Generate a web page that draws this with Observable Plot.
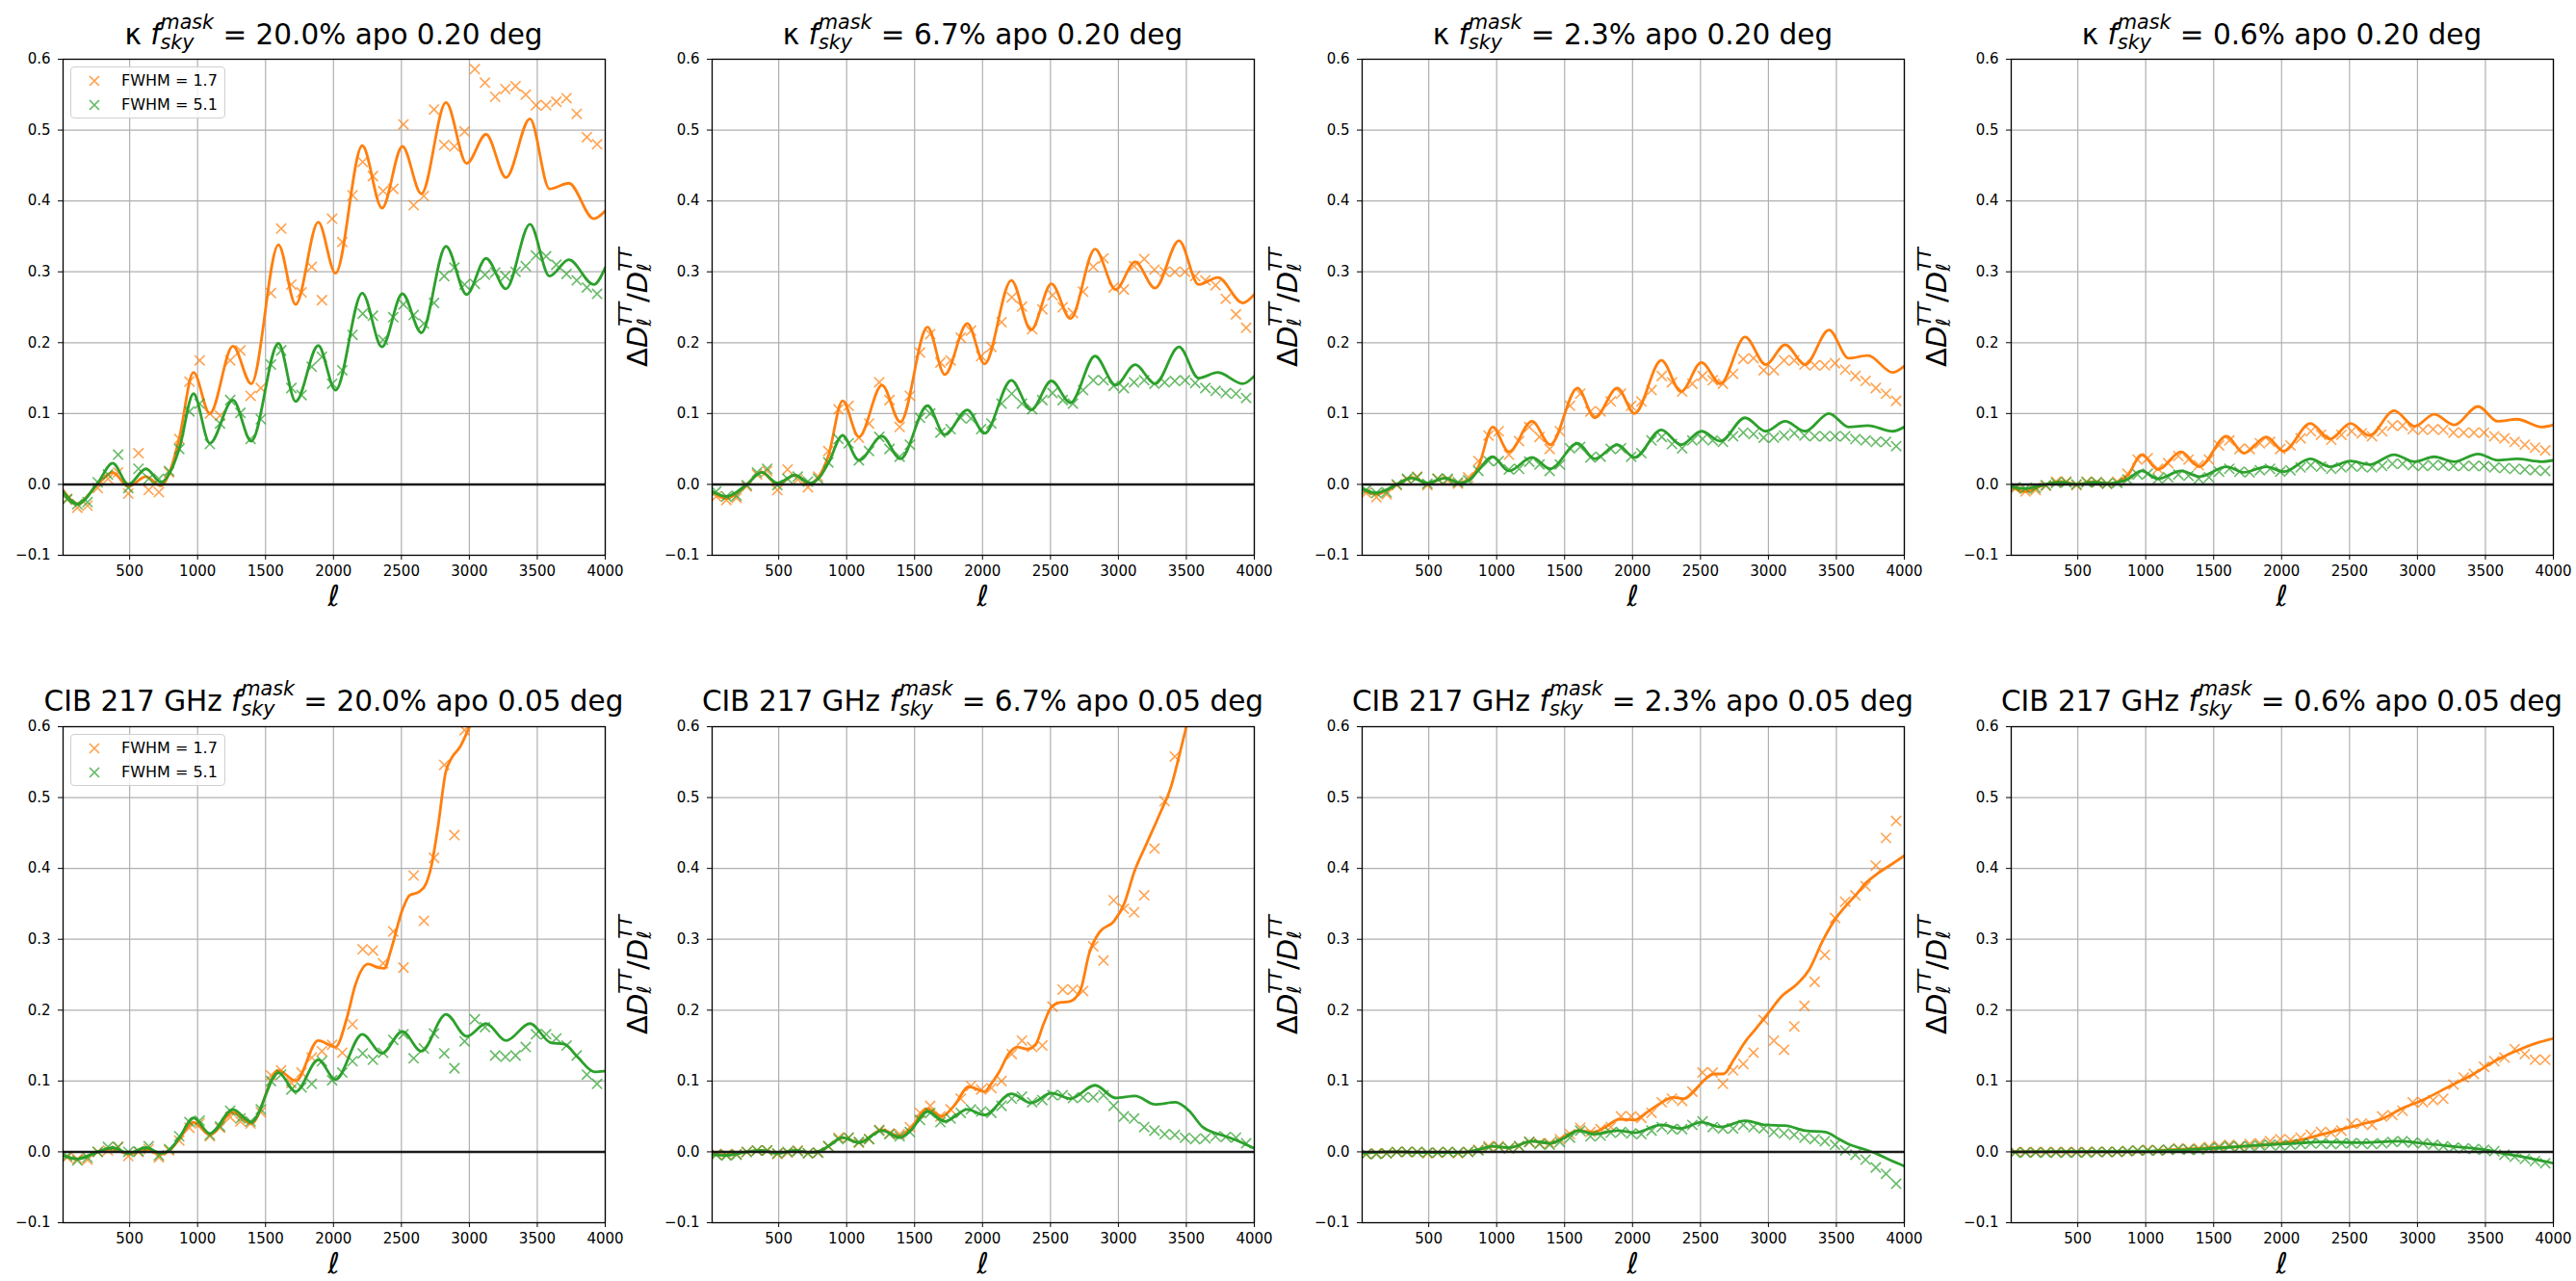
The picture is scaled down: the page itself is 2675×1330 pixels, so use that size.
<!DOCTYPE html>
<html><head><meta charset="utf-8">
<script src="https://cdn.jsdelivr.net/npm/d3@7"></script>
<script src="https://cdn.jsdelivr.net/npm/@observablehq/plot@0.6"></script>
<style>
body{margin:0;background:#fff;}
#fig{position:relative;width:2675px;height:1330px;overflow:hidden;background:#fff;font-family:"DejaVu Sans",sans-serif;color:#000;}
.panel{position:absolute;}
.title{position:absolute;font-size:29.5px;white-space:nowrap;transform:translate(-50%,-50%);line-height:1;}
.ss{display:inline-block;vertical-align:-0.22em;font-size:0.7em;line-height:1;font-style:italic;text-align:left;}
.ss span{display:block;}
.ylab{position:absolute;font-size:29px;white-space:nowrap;transform:translate(-50%,-50%) rotate(-90deg);line-height:1;}
.xlab{position:absolute;font-size:30px;font-style:italic;transform:translate(-50%,-50%);line-height:1;}
.legend{position:absolute;border:1px solid #d0d0d0;border-radius:4px;background:rgba(255,255,255,0.8);font-size:16px;box-sizing:border-box;}
.legend .row{position:absolute;white-space:nowrap;transform:translateY(-50%);line-height:1;}
.legend svg{position:absolute;transform:translate(-50%,-50%);}
</style></head>
<body><div id="fig"></div>
<script>
// ---- data ----
const ellBins = [40,115,190,265,340,415,490,565,640,715,
  790,865,940,1015,1090,1165,1240,1315,1390,1465,
  1540,1615,1690,1765,1840,1915,1990,2065,2140,2215,
  2290,2365,2440,2515,2590,2665,2740,2815,2890,2965,
  3040,3115,3190,3265,3340,3415,3490,3565,3640,3715,
  3790,3865,3940];
const xTicks = [500,1000,1500,2000,2500,3000,3500,4000];
const yTicks = [-0.1,0,0.1,0.2,0.3,0.4,0.5,0.6];
const fskyLabels = ["20.0%","6.7%","2.3%","0.6%"];
const legendLabels = ["FWHM = 1.7","FWHM = 5.1"];

// top row (kappa) smooth-curve knots
const topKnots = [10,115,265,375,490,620,730,800,865,970,1090,1260,1395,1595,1722,1888,2015,2212,2357,2507,2647,2828,2980,3123,3270,3446,3590,3732,3915,4000];

const p1OrangeLine = [-0.008,-0.027,0.0,0.017,-0.003,0.011,-0.002,0.02,0.065,0.158,0.1,0.195,0.142,0.338,0.254,0.37,0.298,0.478,0.39,0.477,0.41,0.539,0.453,0.494,0.433,0.516,0.417,0.425,0.375,0.386];
const p1GreenLine = [-0.01,-0.028,0.002,0.03,0.0,0.022,0.003,0.018,0.05,0.128,0.058,0.119,0.061,0.199,0.117,0.196,0.133,0.27,0.194,0.269,0.214,0.336,0.268,0.319,0.276,0.367,0.294,0.317,0.282,0.306];
const p2OrangeLine = [-0.01,-0.02,0.0,0.017,0.0,0.013,0.0,0.012,0.04,0.118,0.067,0.14,0.088,0.222,0.155,0.227,0.17,0.288,0.218,0.283,0.234,0.332,0.275,0.314,0.277,0.344,0.282,0.292,0.256,0.268];
const p2GreenLine = [-0.01,-0.017,0.0,0.017,0.002,0.013,0.002,0.01,0.03,0.069,0.034,0.068,0.036,0.111,0.07,0.105,0.072,0.147,0.105,0.146,0.115,0.181,0.14,0.169,0.142,0.194,0.15,0.158,0.142,0.153];
const p3OrangeLine = [-0.008,-0.014,0.0,0.01,0.001,0.009,0.002,0.008,0.025,0.081,0.046,0.089,0.056,0.136,0.094,0.136,0.1,0.175,0.131,0.172,0.142,0.208,0.169,0.197,0.169,0.218,0.178,0.182,0.158,0.167];
const p3GreenLine = [-0.006,-0.012,0.0,0.009,0.002,0.009,0.002,0.006,0.02,0.039,0.019,0.038,0.022,0.058,0.036,0.056,0.038,0.077,0.056,0.075,0.061,0.094,0.075,0.089,0.075,0.1,0.081,0.083,0.075,0.081];
const p4OrangeLine = [-0.004,-0.01,0.0,0.004,0.0,0.004,0.001,0.004,0.012,0.042,0.021,0.046,0.025,0.068,0.044,0.067,0.047,0.086,0.064,0.086,0.069,0.104,0.082,0.099,0.084,0.11,0.089,0.092,0.081,0.084];
const p4GreenLine = [-0.003,-0.006,0.0,0.003,0.0,0.003,0.001,0.003,0.007,0.019,0.008,0.019,0.011,0.025,0.017,0.025,0.018,0.036,0.025,0.033,0.028,0.042,0.032,0.039,0.032,0.043,0.034,0.036,0.032,0.034];

// bottom row (CIB) smooth curves
const p5OrangeLineL = [10,115,265,375,490,620,730,800,865,970,1090,1260,1395,1595,1722,1888,2015,2100,2160,2255,2330,2375,2420,2510,2560,2630,2680,2720,2770,2825,2870,2930,2990,3050];
const p5OrangeLineV = [-0.005,-0.01,0.0,0.004,-0.003,0.003,-0.003,0.003,0.018,0.042,0.024,0.056,0.04,0.115,0.1,0.157,0.148,0.19,0.235,0.265,0.26,0.259,0.283,0.343,0.362,0.367,0.378,0.403,0.46,0.535,0.556,0.571,0.595,0.62];
const p5GreenLineL = [10,115,265,375,490,620,730,800,865,970,1090,1260,1395,1595,1722,1888,2015,2212,2357,2507,2647,2828,2980,3123,3270,3446,3600,3700,3800,3920,4000];
const p5GreenLineV = [-0.005,-0.01,0.0,0.006,-0.002,0.006,-0.002,0.004,0.02,0.048,0.026,0.06,0.042,0.112,0.085,0.13,0.102,0.166,0.139,0.17,0.142,0.194,0.163,0.181,0.157,0.181,0.154,0.152,0.133,0.113,0.114];
const p6OrangeLineL = [10,115,265,375,490,620,730,800,865,970,1090,1260,1395,1470,1595,1700,1790,1900,2015,2060,2120,2195,2255,2330,2390,2450,2510,2575,2640,2720,2785,2860,2965,3040,3120,3210,3300,3390,3455,3500,3540];
const p6OrangeLineV = [-0.003,-0.004,0.0,0.002,-0.002,0.002,-0.001,0.001,0.008,0.02,0.013,0.031,0.022,0.033,0.061,0.05,0.065,0.092,0.085,0.095,0.112,0.139,0.148,0.145,0.151,0.181,0.205,0.211,0.212,0.228,0.28,0.31,0.325,0.349,0.397,0.436,0.475,0.517,0.565,0.6,0.63];
const p6GreenLineL = [10,115,265,375,490,620,730,800,865,970,1090,1260,1395,1470,1595,1722,1888,2015,2212,2357,2507,2647,2828,2980,3123,3270,3420,3520,3620,3720,3820,3920,4000];
const p6GreenLineV = [-0.004,-0.005,0.0,0.002,-0.002,0.002,-0.001,0.001,0.008,0.02,0.013,0.03,0.02,0.03,0.057,0.043,0.06,0.052,0.082,0.069,0.083,0.075,0.094,0.076,0.079,0.067,0.07,0.058,0.035,0.026,0.02,0.012,0.005];
const p7OrangeLineL = [10,265,490,730,865,970,1090,1260,1395,1500,1600,1720,1800,1900,2015,2100,2200,2300,2380,2450,2520,2600,2670,2745,2835,2900,3000,3100,3200,3300,3400,3490,3560,3650,3720,3790,3900,4000];
const p7OrangeLineV = [-0.002,0.0,-0.001,-0.001,0.003,0.008,0.006,0.015,0.012,0.022,0.03,0.028,0.035,0.046,0.045,0.055,0.068,0.077,0.075,0.085,0.1,0.11,0.11,0.13,0.157,0.172,0.196,0.22,0.235,0.257,0.298,0.328,0.345,0.364,0.38,0.391,0.405,0.418];
const p7GreenLineL = [10,265,490,730,865,970,1090,1260,1395,1500,1600,1722,1888,2015,2212,2357,2507,2647,2828,2980,3123,3270,3420,3520,3600,3700,3800,3900,4000];
const p7GreenLineV = [-0.002,0.0,-0.001,-0.001,0.003,0.008,0.006,0.015,0.012,0.02,0.03,0.025,0.03,0.027,0.038,0.033,0.042,0.035,0.044,0.038,0.037,0.03,0.028,0.018,0.01,0.004,-0.003,-0.012,-0.02];
const p8OrangeLineL = [10,1000,1100,1300,1500,1700,1966,2119,2302,2486,2608,2731,2884,3037,3221,3404,3588,3771,3900,4000];
const p8OrangeLineV = [0.0,0.0,0.002,0.004,0.006,0.008,0.012,0.016,0.025,0.034,0.04,0.046,0.061,0.073,0.091,0.109,0.13,0.146,0.155,0.16];
const p8GreenLineL = [10,1000,1200,1500,1800,2100,2300,2600,2850,3050,3300,3450,3550,3650,3800,3900,4000];
const p8GreenLineV = [0.0,0.001,0.002,0.005,0.009,0.012,0.014,0.013,0.015,0.012,0.007,0.004,0.001,-0.003,-0.008,-0.012,-0.016];

// binned measurements (x markers), one value per ellBins entry
const p1OrangePts = [-0.021,-0.033,-0.03,-0.005,0.008,0.017,-0.013,0.044,-0.008,-0.011,0.017,0.064,0.145,0.175,0.1,0.097,0.175,0.189,0.125,0.136,0.27,0.361,0.282,0.271,0.307,0.26,0.375,0.342,0.408,0.455,0.435,0.414,0.417,0.508,0.394,0.407,0.529,0.479,0.477,0.498,0.586,0.567,0.547,0.558,0.562,0.55,0.535,0.535,0.54,0.545,0.523,0.49,0.48];
const p1GreenPts = [-0.021,-0.028,-0.025,0.003,0.014,0.042,-0.005,0.022,0.008,0.008,0.019,0.05,0.103,0.114,0.057,0.086,0.119,0.101,0.064,0.092,0.169,0.189,0.136,0.126,0.166,0.18,0.142,0.161,0.211,0.241,0.238,0.204,0.236,0.254,0.239,0.227,0.256,0.294,0.306,0.282,0.283,0.296,0.299,0.294,0.3,0.308,0.323,0.322,0.31,0.297,0.288,0.278,0.269];
const p2OrangePts = [-0.017,-0.022,-0.019,-0.003,0.014,0.019,-0.008,0.021,0.007,-0.004,0.011,0.047,0.106,0.111,0.066,0.086,0.144,0.119,0.081,0.125,0.186,0.212,0.172,0.175,0.207,0.217,0.181,0.194,0.229,0.264,0.251,0.219,0.247,0.267,0.25,0.242,0.272,0.307,0.319,0.278,0.275,0.308,0.318,0.303,0.3,0.3,0.3,0.294,0.288,0.281,0.262,0.24,0.221];
const p2GreenPts = [-0.01,-0.017,-0.016,-0.001,0.017,0.022,-0.001,0.008,0.011,0.004,0.008,0.031,0.064,0.058,0.034,0.047,0.067,0.05,0.039,0.056,0.094,0.1,0.073,0.078,0.094,0.093,0.078,0.086,0.114,0.128,0.114,0.106,0.119,0.129,0.119,0.114,0.133,0.147,0.147,0.139,0.136,0.144,0.147,0.142,0.144,0.146,0.147,0.143,0.136,0.132,0.129,0.128,0.122];
const p3OrangePts = [-0.012,-0.018,-0.014,-0.001,0.007,0.011,-0.001,0.008,0.006,0.001,0.01,0.033,0.069,0.075,0.042,0.061,0.081,0.067,0.05,0.075,0.111,0.128,0.103,0.103,0.117,0.128,0.111,0.117,0.133,0.153,0.144,0.131,0.142,0.153,0.147,0.142,0.156,0.177,0.178,0.161,0.161,0.175,0.175,0.169,0.168,0.168,0.171,0.162,0.153,0.146,0.136,0.128,0.118];
const p3GreenPts = [-0.008,-0.012,-0.011,0,0.008,0.01,0.001,0.008,0.008,0.003,0.006,0.019,0.033,0.033,0.021,0.022,0.032,0.028,0.019,0.028,0.051,0.053,0.038,0.039,0.05,0.051,0.039,0.044,0.062,0.067,0.057,0.051,0.062,0.064,0.062,0.06,0.068,0.073,0.071,0.066,0.066,0.069,0.072,0.069,0.068,0.068,0.068,0.068,0.064,0.062,0.06,0.06,0.054];
const p4OrangePts = [-0.006,-0.01,-0.008,-0.002,0.004,0.004,-0.001,0.004,0.003,0.001,0.004,0.015,0.035,0.037,0.022,0.03,0.04,0.035,0.027,0.035,0.055,0.062,0.05,0.05,0.058,0.06,0.05,0.055,0.065,0.075,0.07,0.063,0.07,0.075,0.072,0.068,0.075,0.083,0.083,0.078,0.077,0.078,0.077,0.073,0.073,0.073,0.073,0.068,0.065,0.06,0.056,0.052,0.048];
const p4GreenPts = [-0.004,-0.006,-0.005,-0.001,0.002,0.003,0,0.003,0.003,0.001,0.002,0.007,0.014,0.015,0.008,0.01,0.014,0.012,0.008,0.01,0.018,0.022,0.018,0.017,0.02,0.022,0.018,0.02,0.024,0.027,0.025,0.022,0.024,0.026,0.025,0.024,0.026,0.029,0.029,0.027,0.026,0.027,0.027,0.026,0.026,0.026,0.026,0.024,0.023,0.022,0.021,0.02,0.019];
const p5OrangePts = [-0.008,-0.01,-0.011,0,0.002,0.007,-0.006,0,0.004,-0.008,0.002,0.016,0.034,0.04,0.022,0.034,0.049,0.043,0.04,0.056,0.108,0.115,0.097,0.112,0.133,0.142,0.151,0.14,0.18,0.286,0.284,0.266,0.311,0.26,0.39,0.326,0.415,0.546,0.447,0.595,null,null,null,null,null,null,null,null,null,null,null,null,null];
const p5GreenPts = [-0.006,-0.012,-0.008,0,0.007,0.007,0,0.001,0.008,-0.005,0.004,0.022,0.042,0.044,0.024,0.036,0.058,0.047,0.043,0.06,0.1,0.109,0.088,0.091,0.096,0.128,0.101,0.112,0.128,0.139,0.13,0.14,0.158,0.166,0.132,0.146,0.167,0.139,0.118,0.156,0.187,0.176,0.136,0.134,0.136,0.148,0.166,0.166,0.16,0.15,0.136,0.109,0.096];
const p6OrangePts = [-0.003,-0.004,-0.003,0,0.002,0.002,-0.003,-0.001,0.002,-0.002,-0.001,0.008,0.02,0.02,0.013,0.018,0.031,0.026,0.025,0.035,0.055,0.065,0.05,0.06,0.075,0.093,0.088,0.09,0.1,0.138,0.157,0.148,0.15,0.205,0.229,0.229,0.227,0.29,0.27,0.355,0.343,0.338,0.362,0.428,0.495,0.558,null,null,null,null,null,null,null];
const p6GreenPts = [-0.004,-0.005,-0.004,0,0.002,0.002,-0.002,0,0.001,-0.002,-0.001,0.008,0.018,0.02,0.014,0.018,0.03,0.025,0.022,0.028,0.045,0.055,0.042,0.047,0.055,0.06,0.057,0.055,0.065,0.075,0.078,0.07,0.073,0.08,0.08,0.076,0.077,0.077,0.08,0.065,0.05,0.047,0.035,0.03,0.025,0.024,0.02,0.018,0.019,0.022,0.021,0.02,0.012];
const p7OrangePts = [-0.003,-0.002,-0.002,0,0,0,-0.002,-0.001,0,-0.002,0,0.003,0.008,0.008,0.005,0.008,0.014,0.012,0.012,0.018,0.025,0.034,0.028,0.032,0.035,0.05,0.05,0.048,0.055,0.07,0.075,0.072,0.085,0.112,0.112,0.096,0.115,0.124,0.14,0.186,0.157,0.144,0.177,0.206,0.24,0.278,0.33,0.353,0.362,0.375,0.404,0.443,0.467];
const p7GreenPts = [-0.003,-0.003,-0.002,0,0,0,-0.001,-0.001,0,-0.001,0,0.002,0.006,0.007,0.005,0.008,0.014,0.011,0.01,0.014,0.02,0.03,0.022,0.023,0.027,0.028,0.026,0.025,0.03,0.035,0.032,0.032,0.038,0.043,0.035,0.033,0.033,0.038,0.035,0.033,0.028,0.026,0.024,0.02,0.018,0.015,0.01,0.002,-0.004,-0.011,-0.022,-0.031,-0.045];
const p8OrangePts = [0,0,0,0,0,0,0,0,0,0,0,0.001,0.002,0.003,0.002,0.003,0.005,0.004,0.005,0.007,0.008,0.01,0.008,0.011,0.012,0.015,0.018,0.017,0.02,0.024,0.028,0.027,0.03,0.04,0.04,0.038,0.05,0.052,0.058,0.07,0.07,0.073,0.075,0.095,0.105,0.11,0.12,0.128,0.133,0.145,0.138,0.13,0.13];
const p8GreenPts = [-0.001,-0.001,-0.001,-0.001,-0.001,-0.001,-0.001,-0.001,0,0,0,0.001,0.002,0.002,0.002,0.003,0.004,0.003,0.003,0.005,0.006,0.008,0.007,0.008,0.009,0.01,0.009,0.01,0.011,0.012,0.012,0.011,0.012,0.012,0.012,0.011,0.012,0.014,0.015,0.013,0.012,0.01,0.008,0.006,0.005,0.004,0.003,0.001,-0.004,-0.007,-0.01,-0.013,-0.016];

// ---- build ----
const ORANGE = "#ff7f0e", GREEN = "#2ca02c";
const zip = (ls, vs) => ls.map((l, i) => ({l, v: vs[i]})).filter(d => d.v != null);
const panels = [
  {oL: zip(topKnots, p1OrangeLine), gL: zip(topKnots, p1GreenLine), oP: zip(ellBins, p1OrangePts), gP: zip(ellBins, p1GreenPts)},
  {oL: zip(topKnots, p2OrangeLine), gL: zip(topKnots, p2GreenLine), oP: zip(ellBins, p2OrangePts), gP: zip(ellBins, p2GreenPts)},
  {oL: zip(topKnots, p3OrangeLine), gL: zip(topKnots, p3GreenLine), oP: zip(ellBins, p3OrangePts), gP: zip(ellBins, p3GreenPts)},
  {oL: zip(topKnots, p4OrangeLine), gL: zip(topKnots, p4GreenLine), oP: zip(ellBins, p4OrangePts), gP: zip(ellBins, p4GreenPts)},
  {oL: zip(p5OrangeLineL, p5OrangeLineV), gL: zip(p5GreenLineL, p5GreenLineV), oP: zip(ellBins, p5OrangePts), gP: zip(ellBins, p5GreenPts)},
  {oL: zip(p6OrangeLineL, p6OrangeLineV), gL: zip(p6GreenLineL, p6GreenLineV), oP: zip(ellBins, p6OrangePts), gP: zip(ellBins, p6GreenPts)},
  {oL: zip(p7OrangeLineL, p7OrangeLineV), gL: zip(p7GreenLineL, p7GreenLineV), oP: zip(ellBins, p7OrangePts), gP: zip(ellBins, p7GreenPts)},
  {oL: zip(p8OrangeLineL, p8OrangeLineV), gL: zip(p8GreenLineL, p8GreenLineV), oP: zip(ellBins, p8OrangePts), gP: zip(ellBins, p8GreenPts)}
];

const colLeft = [65, 739, 1414, 2088];
const rowTop = [61, 754];
const AW = 563, AH = 515;
const ML = 60, MR = 12, MT = 10, MB = 40;
const fig = document.getElementById("fig");

function ssHTML(sup, sub){ return `<span class="ss"><span>${sup}</span><span>${sub}</span></span>`; }
const ylabHTML = `Δ<i>D</i>${ssHTML("TT","ℓ")}/<i>D</i>${ssHTML("TT","ℓ")}`;

function crossSVG(color){
  return `<svg width="14" height="14" viewBox="-7 -7 14 14"><path d="M-5,-5L5,5M-5,5L5,-5" stroke="${color}" stroke-width="1.6" stroke-opacity="0.75" fill="none"/></svg>`;
}

panels.forEach((p, i) => {
  const col = i % 4, row = Math.floor(i / 4);
  const L = colLeft[col], T = rowTop[row];
  const dotOpts = (c) => ({x: "l", y: "v", symbol: "times", r: 4.8, stroke: c, strokeWidth: 1.6, strokeOpacity: 0.72, clip: true});
  const lineOpts = (c) => ({x: "l", y: "v", stroke: c, strokeWidth: 2.8, curve: "monotone-x", clip: true});
  const svg = Plot.plot({
    width: AW + ML + MR, height: AH + MT + MB,
    marginLeft: ML, marginRight: MR, marginTop: MT, marginBottom: MB,
    style: {fontFamily: "DejaVu Sans", fontSize: "15px", background: "transparent", color: "#000", overflow: "visible"},
    x: {domain: [10, 4000], ticks: xTicks, tickFormat: d => String(d), label: null, tickSize: 5, tickPadding: 6},
    y: {domain: [-0.1, 0.6], ticks: yTicks, tickFormat: d3.format(".1f"), label: null, tickSize: 5, tickPadding: 8},
    marks: [
      Plot.ruleX(xTicks, {stroke: "#b0b0b0", strokeWidth: 1.2}),
      Plot.ruleY(yTicks, {stroke: "#b0b0b0", strokeWidth: 1.2}),
      Plot.dot(p.oP, dotOpts(ORANGE)),
      Plot.line(p.oL, lineOpts(ORANGE)),
      Plot.dot(p.gP, dotOpts(GREEN)),
      Plot.line(p.gL, lineOpts(GREEN)),
      Plot.ruleY([0], {stroke: "#1a1a1a", strokeWidth: 2.5}),
      Plot.frame({stroke: "#000", strokeWidth: 1.3})
    ]
  });
  const wrap = document.createElement("div");
  wrap.className = "panel";
  wrap.style.left = (L - ML) + "px";
  wrap.style.top = (T - MT) + "px";
  wrap.appendChild(svg);
  fig.appendChild(wrap);

  // title
  const t = document.createElement("div");
  t.className = "title";
  const prefix = row === 0 ? "κ" : "CIB 217 GHz";
  const apo = row === 0 ? "0.20" : "0.05";
  t.innerHTML = `${prefix} <i>f</i>${ssHTML("mask","sky")} = ${fskyLabels[col]} apo ${apo} deg`;
  t.style.left = (L + AW / 2) + "px";
  t.style.top = (row === 0 ? 34 : 726) + "px";
  fig.appendChild(t);

  // x label
  const xl = document.createElement("div");
  xl.className = "xlab";
  xl.textContent = "ℓ";
  xl.style.left = (L + AW / 2) + "px";
  xl.style.top = (T + AH + 43) + "px";
  fig.appendChild(xl);

  // y label (first column falls outside the figure)
  if (col > 0) {
    const yl = document.createElement("div");
    yl.className = "ylab";
    yl.innerHTML = ylabHTML;
    yl.style.left = (L - 80) + "px";
    yl.style.top = (T + AH / 2) + "px";
    fig.appendChild(yl);
  }

  // legend
  if (col === 0) {
    const lg = document.createElement("div");
    lg.className = "legend";
    lg.style.left = (L + 8) + "px";
    lg.style.top = (T + 8) + "px";
    lg.style.width = "161px";
    lg.style.height = "54px";
    [ORANGE, GREEN].forEach((c, k) => {
      const yy = 14 + k * 25;
      const m = document.createElement("div");
      m.innerHTML = crossSVG(c);
      m.firstChild.style.left = "24px";
      m.firstChild.style.top = yy + "px";
      lg.appendChild(m.firstChild);
      const r = document.createElement("div");
      r.className = "row";
      r.style.left = "52px";
      r.style.top = yy + "px";
      r.textContent = legendLabels[k];
      lg.appendChild(r);
    });
    fig.appendChild(lg);
  }
});
</script>
</body></html>
